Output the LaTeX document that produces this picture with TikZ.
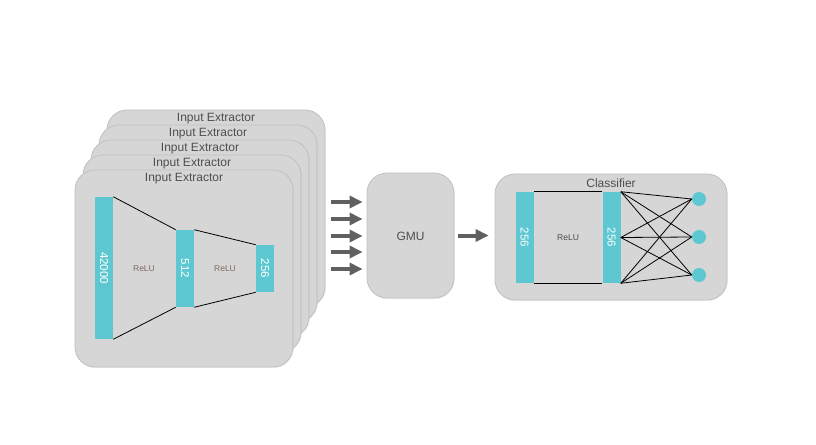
\documentclass[tikz,border=0pt]{standalone}
\usepackage{fontspec}
\setmainfont{Liberation Sans}
\usepackage{graphicx}
\usetikzlibrary{arrows.meta,shadows}

\definecolor{boxgray}{RGB}{214,214,214}
\definecolor{edgegray}{RGB}{192,192,192}
\definecolor{barteal}{RGB}{94,200,210}
\definecolor{txtgray}{RGB}{78,78,78}
\definecolor{arrgray}{RGB}{96,96,96}
\definecolor{relubrown}{RGB}{128,108,98}

\tikzset{
  card/.style={draw=edgegray, fill=boxgray, rounded corners=15pt, line width=0.6pt,
    drop shadow={opacity=0.12, shadow xshift=0.6pt, shadow yshift=-0.9pt}},
  title/.style={text=txtgray, inner sep=0pt, font=\fontsize{9}{10}\selectfont},
  bar/.style={fill=barteal, inner sep=0pt, minimum width=13.5pt, text=white,
    font=\fontsize{8.6}{10}\selectfont},
  relu/.style={inner sep=0pt, font=\fontsize{6.4}{7}\selectfont},
  unit/.style={circle, fill=barteal, inner sep=0pt, minimum size=10.5pt},
  fat/.style={draw=arrgray, line width=3pt, -{Triangle[length=9.75pt,width=9pt]}},
  wire/.style={draw=black, line width=0.6pt}
}

\begin{document}
\begin{tikzpicture}[x=0.75pt,y=-0.75pt]

            \useasboundingbox (0,0) rectangle (816,445);

            % Stack of extractor cards, back to front
            \foreach \i in {4,3,2,1,0} {
                \node [card, minimum width=163.5pt, minimum height=147.75pt] (ie\i) at (184+8*\i, 268.5-15*\i) {};
                \node [title] (ttl\i) at (184+8*\i, 179-15*\i) {Input Extractor};
            }

            % Layers of the front extractor
            \node [bar, minimum height=106.5pt] (b1) at (104,268) {\rotatebox{-90}{42000}};
            \node [bar, minimum height=57.75pt] (b2) at (185,268.5) {\rotatebox{-90}{512}};
            \node [bar, minimum height=35.25pt] (b3) at (265,268.5) {\rotatebox{-90}{256}};
            \node [relu, text=relubrown] (r1) at (144,269) {ReLU};
            \node [relu, text=relubrown] (r2) at (225,269) {ReLU};

            \draw [wire] (b1.north east) -- (b2.north west);
            \draw [wire] (b1.south east) -- (b2.south west);
            \draw [wire] (b2.north east) -- (b3.north west);
            \draw [wire] (b2.south east) -- (b3.south west);

            % Fusion unit
            \node [card, minimum width=65.25pt, minimum height=93.75pt] (gmu) at (410.5,235.5) {};
            \node [title] (gmulab) at (410.5,236) {GMU};

            % One arrow per extractor
            \foreach \n/\y in {1/202, 2/219, 3/236, 4/252, 5/269} {
                \coordinate (in\n) at (331,\y);
                \draw [fat, shorten >=3pt] (in\n) -- (in\n -| gmu.west);
            }

            % Classifier
            \node [card, minimum width=174pt, minimum height=94.5pt] (cls) at (611,237) {};
            \node [title] (clslab) at (611,183) {Classifier};
            \draw [fat, shorten <=3pt, shorten >=4.5pt] (gmu.east) -- (gmu.east -| cls.west);

            \node [bar, minimum height=68.25pt] (c1) at (524.5,237.5) {\rotatebox{-90}{256}};
            \node [bar, minimum height=68.25pt] (c2) at (611.5,237.5) {\rotatebox{-90}{256}};
            \node [relu, text=txtgray] (r3) at (568,238) {ReLU};
            \draw [wire] (c1.north east) -- (c2.north west);
            \draw [wire] (c1.south east) -- (c2.south west);

            % Output units, fully connected
            \foreach \o/\y in {1/199, 2/237, 3/275} {
                \node [unit] (o\o) at (699,\y) {};
            }
            \foreach \a in {north east, east, south east} {
                \foreach \o in {1,2,3} {
                    \draw [wire] (c2.\a) -- (o\o.west);
                }
            }

        \end{tikzpicture}
\end{document}
